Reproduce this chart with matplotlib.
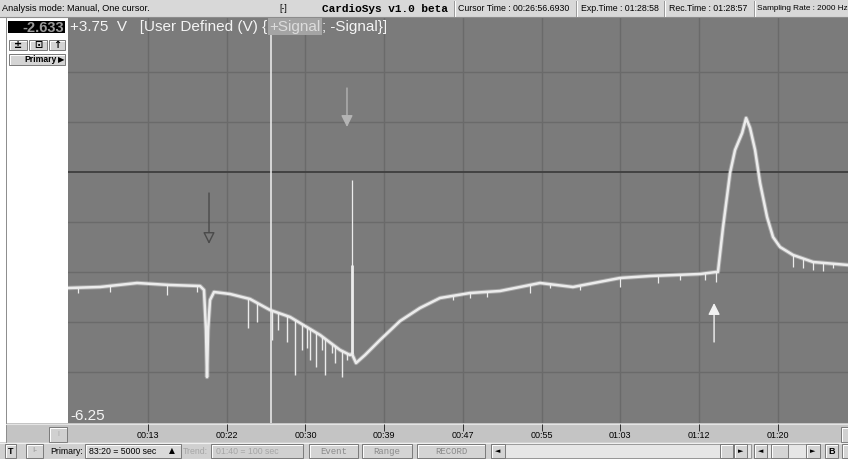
import numpy as np
import matplotlib
matplotlib.use('Agg')
import matplotlib.pyplot as plt
from matplotlib.patches import Rectangle

# signal: time (min) and value (V)
trace_t = [4.86, 8.25, 12.17, 15.66, 18.84, 19.26, 19.47, 19.58, 19.69, 19.90, 20.32,
           22.02, 24.13, 26.25, 28.37, 29.43, 31.55, 33.66, 34.72, 34.93, 35.36, 36.31,
           37.90, 40.02, 42.13, 44.25, 47.43, 50.60, 54.84, 58.33, 63.31, 66.49, 71.78,
           73.48, 73.68, 74.22, 74.96, 75.49, 76.24, 76.66, 77.08, 77.61, 78.14, 78.88,
           79.51, 80.25, 81.63, 83.75, 87.45]
trace_v = [-2.90, -2.875, -2.775, -2.825, -2.85, -2.95, -3.95, -5.125, -3.95, -3.20, -3.00,
           -3.05, -3.175, -3.45, -3.625, -3.775, -4.075, -4.45, -4.575, -4.55, -4.775, -4.575,
           -4.20, -3.725, -3.40, -3.15, -3.025, -2.975, -2.775, -2.875, -2.65, -2.60, -2.55,
           -2.50, -2.50, -1.375, -0.025, 0.55, 0.975, 1.35, 1.10, 0.55, -0.275, -1.125,
           -1.625, -1.875, -2.075, -2.25, -2.325]

# downward noise spikes (time, lowest value)
spike_t = [23.92, 24.87, 26.46, 27.10, 28.05, 28.90, 29.64, 30.17, 30.49, 31.12,
           31.76, 32.08, 32.82, 33.13, 33.88, 34.40]
spike_lo = [-3.90, -3.75, -4.20, -3.95, -4.25, -5.075, -4.45, -4.40, -4.70, -4.875,
            -4.45, -5.075, -4.525, -4.775, -5.125, -4.70]
small_t = [5.92, 9.31, 15.34, 18.52, 45.63, 47.43, 49.23, 53.78, 55.90, 59.08,
           63.31, 67.33, 69.66, 72.31, 73.50, 81.63, 82.69, 83.75, 84.81, 85.87]
small_lo = [-3.025, -3.0, -3.075, -3.0, -3.20, -3.15, -3.125, -3.025, -2.90, -2.95,
            -2.875, -2.775, -2.70, -2.70, -2.75, -2.375, -2.40, -2.45, -2.475, -2.40]

# tall artefact just before the recovery
art_t = 34.93
art_top = -0.20
art_mid = -2.325
art_base = -4.55

cursor_t = 26.36

tick_t = [13.33, 21.67, 30.0, 38.33, 46.67, 55.0, 63.33, 71.67, 80.0]
tick_lab = ['00:13', '00:22', '00:30', '00:39', '00:47', '00:55', '01:03', '01:12', '01:20']
v_grid = [2.5, 1.25, -1.25, -2.5, -3.75, -5.0]

# arrows: time, tail value, tip value
arrow_t = [19.79, 34.40, 73.27]
arrow_tail = [-0.525, 2.10, -4.25]
arrow_tip = [-1.80, 1.125, -3.275]
arrow_ec = ['#4a4a4a', '#b4b4b4', '#f2f2f2']
arrow_fc = ['#7b7b7b', '#b4b4b4', '#f2f2f2']

plot_bg = '#7b7b7b'
grid_c = '#6a6a6a'
trace_c = '#ececec'

fig = plt.figure(figsize=(8.48, 4.59), dpi=100)
fig.patch.set_facecolor('white')

# screen furniture in pixel coordinates
ui = fig.add_axes([0, 0, 1, 1])
ui.set_xlim(0, 848)
ui.set_ylim(459, 0)
ui.axis('off')


def rect(x0, y0, x1, y1, fc, ec='none', lw=0.8, z=1):
    ui.add_patch(Rectangle((x0, y0), x1 - x0, y1 - y0, fc=fc, ec=ec, lw=lw, zorder=z))


def button(x0, y0, x1, y1, fc='#d4d4d4'):
    rect(x0, y0, x1, y1, fc, ec='#7a7a7a', lw=0.7, z=2)
    ui.plot([x0 + 1, x0 + 1, x1 - 1], [y1 - 1, y0 + 1, y0 + 1], color='white', lw=0.7, zorder=3)


def txt(x, y, s, size=6, **kw):
    kw.setdefault('va', 'center')
    kw.setdefault('color', 'black')
    kw.setdefault('family', 'Liberation Sans')
    return ui.text(x, y, s, fontsize=size, zorder=6, **kw)


# status bar
rect(0, 0, 848, 17, '#d8d8d8')
ui.plot([0, 848], [17, 17], color='#8c8c8c', lw=0.8)
txt(2, 8.5, 'Analysis mode: Manual, One cursor.', size=6.6)
txt(279, 8.5, '[-]', size=6.2)
txt(322, 8.5, 'CardioSys v1.0 beta', size=8.0, family='Liberation Mono', weight='bold')
for xd in [454, 576, 664, 754]:
    ui.plot([xd, xd], [1, 16], color='#9a9a9a', lw=0.7)
    ui.plot([xd + 1, xd + 1], [1, 16], color='white', lw=0.7)
txt(458, 8.5, 'Cursor Time : 00:26:56.6930', size=6.3)
txt(581, 8.5, 'Exp.Time : 01:28:58', size=6.3)
txt(669, 8.5, 'Rec.Time : 01:28:57', size=6.3)
txt(757, 8.5, 'Sampling Rate : 2000 Hz', size=5.9)

# left panel
rect(0, 17, 68, 442, 'white')
ui.plot([6, 6], [17, 459], color='#8c8c8c', lw=0.7)
rect(8, 21, 65, 33, 'black', z=2)
txt(64, 27.5, '-2.633', size=10.5, color='#9a9a9a', ha='right', weight='bold')
for (bx0, bx1, g) in [(9, 27, '±'), (29, 47, '⊡'), (49, 65, '↑')]:
    button(bx0, 40, bx1, 50)
    txt((bx0 + bx1) / 2, 45.5, g, size=7, family='DejaVu Sans', weight='bold', ha='center')
button(9, 54, 65, 65)
txt(57, 60, 'Primary', size=6.2, weight='bold', ha='right')
txt(61.5, 60, '▶', size=6, family='DejaVu Sans', ha='center')

# time strip
rect(6, 423, 848, 442, '#c4c4c4')
ui.plot([6, 848], [423.5, 423.5], color='#e4e4e4', lw=0.8)
button(49, 427, 67, 442, fc='#d0d0d0')
txt(58, 434.5, 'I', size=5, color='#a8a8a8', ha='center')
button(841, 427, 852, 442, fc='#d0d0d0')

# bottom toolbar
rect(0, 442, 848, 459, '#d0d0d0')
ui.plot([0, 848], [442.5, 442.5], color='#f0f0f0', lw=0.8)
button(5, 444, 16, 458)
txt(10.5, 451, 'T', size=6.5, weight='bold', ha='center')
button(26, 444, 43, 458)
txt(34.5, 451, 'I-', size=6, color='#9a9a9a', ha='center')
txt(50, 451, 'Primary:', size=6.3)
button(85, 444, 181, 458, fc='#dadada')
txt(89, 451, '83:20 = 5000 sec', size=6.3)
txt(172, 451, '▲', size=5.5, family='DejaVu Sans', ha='center')
txt(183, 451, 'Trend:', size=6.3, color='#a6a6a6')
button(211, 444, 303, 458, fc='#d0d0d0')
txt(216, 451, '01:40 = 100 sec', size=6.3, color='#a6a6a6')
for (bx0, bx1, lab) in [(309, 358, 'Event'), (362, 412, 'Range'), (417, 485, 'RECORD')]:
    button(bx0, 444, bx1, 458)
    txt((bx0 + bx1) / 2, 451, lab, size=6.5, family='Liberation Mono', color='#8a8a8a', ha='center')
rect(491, 444, 751, 458, '#e6e6e6', ec='#8a8a8a', lw=0.6)
button(491, 444, 505, 458)
txt(498, 451, '◄', size=5, ha='center', family='DejaVu Sans')
button(720, 444, 733, 458)
button(734, 444, 747, 458)
txt(740.5, 451, '►', size=5, ha='center', family='DejaVu Sans')
rect(754, 444, 820, 458, '#e6e6e6', ec='#8a8a8a', lw=0.6)
button(754, 444, 767, 458)
txt(760.5, 451, '◄', size=5, ha='center', family='DejaVu Sans')
button(771, 444, 788, 458)
button(806, 444, 820, 458)
txt(813, 451, '►', size=5, ha='center', family='DejaVu Sans')
button(825, 444, 838, 458)
txt(831.5, 451, 'B', size=6.5, weight='bold', ha='center')
button(842, 444, 852, 458)

# the signal panel
x0_px, x1_px = 68, 848
t_lo, t_hi = 4.86, 87.45
ax = fig.add_axes([x0_px / 848, (459 - 423) / 459, (x1_px - x0_px) / 848, (423 - 18) / 459])
ax.set_facecolor(plot_bg)
ax.set_xlim(t_lo, t_hi)
ax.set_ylim(-6.275, 3.85)
for s in ax.spines.values():
    s.set_visible(False)
ax.set_xticks([])
ax.set_yticks([])

for t in tick_t:
    ax.axvline(t, color=grid_c, lw=1.0, zorder=1)
for v in v_grid:
    ax.axhline(v, color=grid_c, lw=1.0, zorder=1)
ax.axhline(0, color='#3e3e3e', lw=1.3, zorder=1)

ax.axvline(cursor_t, color='#f0f0f0', lw=1.1, zorder=2)

# signal
ax.plot(trace_t, trace_v, color=trace_c, lw=3.2, alpha=0.35, zorder=3, solid_joinstyle='round')
ax.plot(trace_t, trace_v, color=trace_c, lw=1.8, zorder=4, solid_joinstyle='round')
base = np.interp(spike_t, trace_t, trace_v)
ax.vlines(spike_t, spike_lo, base, color=trace_c, lw=1.0, zorder=4)
sbase = np.interp(small_t, trace_t, trace_v)
ax.vlines(small_t, small_lo, sbase, color=trace_c, lw=0.9, zorder=4)
ax.vlines([art_t], [art_base], [art_top], color=trace_c, lw=0.9, zorder=4)
ax.vlines([art_t], [art_base], [art_mid], color=trace_c, lw=2.0, zorder=4)

for t, v0, v1, ec, fc in zip(arrow_t, arrow_tail, arrow_tip, arrow_ec, arrow_fc):
    ax.annotate('', xy=(t, v1), xytext=(t, v0),
                arrowprops=dict(arrowstyle='-|>,head_length=0.7,head_width=0.35',
                                mutation_scale=10, lw=1.0, ec=ec, fc=fc,
                                shrinkA=0, shrinkB=0), zorder=5)

# strip ticks share the plot's time scale
strip = fig.add_axes([x0_px / 848, (459 - 442) / 459, (x1_px - x0_px) / 848, (442 - 424) / 459])
strip.set_xlim(t_lo, t_hi)
strip.set_ylim(0, 1)
strip.patch.set_alpha(0)
for s in strip.spines.values():
    s.set_visible(False)
strip.set_yticks([])
strip.set_xticks(tick_t)
strip.set_xticklabels(tick_lab, fontsize=6.5, family='Liberation Sans')
strip.tick_params(axis='x', direction='in', length=5, width=0.7, color='#303030', pad=-8,
                  top=True, bottom=False, labeltop=False, labelbottom=True)

# scale labels on top of the plot, pieces placed one after another
over = fig.add_axes([0, 0, 1, 1])
over.set_xlim(0, 848)
over.set_ylim(459, 0)
over.axis('off')
lab_kw = dict(fontsize=11, family='Liberation Sans', color='#f4f4f4', va='center', ha='left', zorder=6)
over.text(70, 26.5, '+3.75  V   [User Defined (V) {', **lab_kw)
fig.canvas.draw()
r = fig.canvas.get_renderer()
inv = over.transData.inverted()
x_next = inv.transform(over.texts[-1].get_window_extent(r))[1][0]
t2 = over.text(x_next + 2, 26.5, '+Signal', **lab_kw)
t2.set_color('#dcdcdc')
t2.set_bbox(dict(boxstyle='square,pad=0.08', fc='#a4a4a4', ec='none'))
fig.canvas.draw()
x_next = inv.transform(t2.get_window_extent(r))[1][0]
over.text(x_next + 1, 26.5, '; -Signal}]', **lab_kw)
over.text(70, 416, '-6.25', **lab_kw)

fig.savefig('out.png', dpi=100)
